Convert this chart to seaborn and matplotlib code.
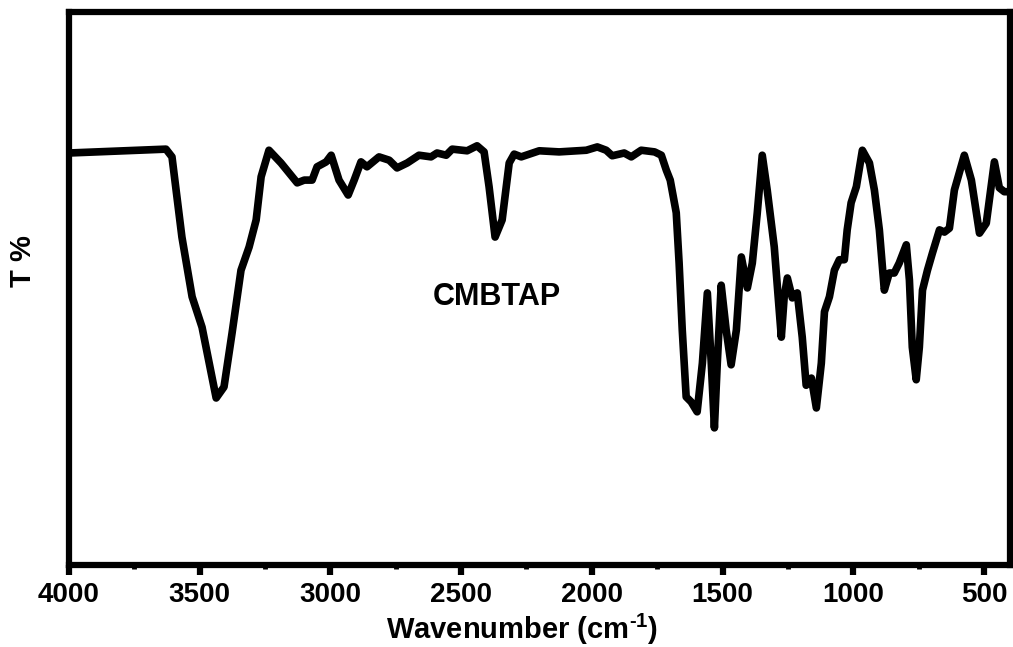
import matplotlib
matplotlib.use("Agg")
import matplotlib.pyplot as plt
import seaborn as sns
import pandas as pd
from matplotlib.ticker import MultipleLocator

# FTIR spectrum of CMBTAP
wavenumber = [4000, 3629, 3606, 3568, 3529, 3491, 3437, 3407, 3376, 3342, 3311, 3284, 3265, 3235,
              3189, 3158, 3127, 3100, 3070, 3051, 3016, 2997, 2967, 2932, 2909, 2883, 2860, 2814,
              2775, 2745, 2706, 2661, 2615, 2592, 2557, 2534, 2477, 2439, 2412, 2393, 2370, 2343,
              2316, 2297, 2270, 2201, 2125, 2021, 1979, 1945, 1922, 1876, 1849, 1811, 1760, 1734,
              1715, 1700, 1677, 1666, 1654, 1639, 1620, 1597, 1577, 1558, 1543, 1531, 1520, 1505,
              1486, 1467, 1447, 1428, 1405, 1386, 1367, 1348, 1329, 1302, 1275, 1264, 1252, 1233,
              1214, 1195, 1180, 1160, 1141, 1122, 1110, 1091, 1072, 1053, 1034, 1023, 1008, 988,
              965, 938, 919, 900, 881, 862, 843, 824, 797, 785, 774, 759, 747, 735, 716, 697, 670,
              651, 632, 613, 575, 548, 517, 491, 460, 441, 422, 400]
transmittance = [74.5, 75.2, 73.8, 59.3, 48.5, 43.0, 30.2, 32.2, 42.0, 53.3, 57.5, 62.4, 70.2, 75.0,
                 72.7, 70.9, 69.1, 69.6, 69.6, 72.0, 72.9, 74.1, 69.6, 66.9, 69.6, 72.9, 72.0, 73.8,
                 73.2, 71.8, 72.7, 74.1, 73.8, 74.5, 74.1, 75.2, 74.9, 75.8, 74.7, 68.4, 59.3, 62.4,
                 72.7, 74.3, 73.8, 74.9, 74.7, 75.0, 75.6, 75.0, 74.0, 74.5, 73.8, 75.0, 74.7, 74.1,
                 71.4, 69.6, 63.7, 54.6, 42.5, 30.4, 29.5, 27.7, 36.5, 49.2, 36.5, 24.8, 36.5, 50.6,
                 42.5, 36.2, 42.5, 55.7, 50.1, 54.6, 63.7, 74.1, 67.8, 57.5, 41.2, 48.5, 51.9, 48.3,
                 49.2, 41.2, 32.5, 33.8, 28.4, 36.5, 45.8, 48.5, 53.3, 55.2, 55.2, 60.6, 65.5, 68.4,
                 75.0, 72.7, 67.8, 60.6, 49.7, 52.8, 52.8, 54.6, 57.9, 51.5, 39.4, 33.5, 39.4, 49.7,
                 53.3, 56.4, 60.6, 60.2, 60.9, 67.8, 74.1, 69.6, 60.0, 61.8, 72.9, 68.2, 67.5, 67.5]
x_ticks = [4000, 3500, 3000, 2500, 2000, 1500, 1000, 500]
sample_label = "CMBTAP"

sns.set_style("white")
plt.rcParams['font.family'] = ['Liberation Sans', 'DejaVu Sans']
plt.rcParams['font.weight'] = 'bold'
plt.rcParams['text.color'] = 'black'
plt.rcParams['axes.labelcolor'] = 'black'
plt.rcParams['xtick.color'] = 'black'
plt.rcParams['ytick.color'] = 'black'
plt.rcParams['mathtext.fontset'] = 'custom'
plt.rcParams['mathtext.rm'] = 'Liberation Sans:bold'
plt.rcParams['mathtext.bf'] = 'Liberation Sans:bold'
plt.rcParams['mathtext.default'] = 'bf'

df = pd.DataFrame({"Wavenumber": wavenumber, "T": transmittance})

fig = plt.figure(figsize=(10.13, 6.47), dpi=100)
ax = fig.add_axes([0.0681, 0.1267, 0.9290, 0.8548])

sns.lineplot(data=df, x="Wavenumber", y="T", sort=False, color="black", linewidth=5.5,
             ax=ax, estimator=None)
for l in ax.lines:
    l.set_solid_joinstyle('round')
    l.set_solid_capstyle('round')

ax.set_xlim(4000, 400)
ax.set_ylim(0, 100)
ax.set_xticks(x_ticks)
ax.xaxis.set_minor_locator(MultipleLocator(250))
ax.set_yticks([])

for s in ax.spines.values():
    s.set_visible(True)
    s.set_linewidth(4.5)
    s.set_color("black")

ax.tick_params(axis='x', which='major', direction='out', length=7, width=4.5,
               labelsize=20, pad=5, bottom=True, top=False, colors='black')
ax.tick_params(axis='x', which='minor', direction='out', length=3, width=3.5,
               bottom=True, top=False, colors='black')
for t in ax.get_xticklabels():
    t.set_fontweight('bold')

ax.set_xlabel("Wavenumber (cm$^{\u20101}$)", fontsize=21, fontweight='bold', color='black')
ax.set_ylabel("T %", fontsize=21, fontweight='bold', color='black')
ax.xaxis.set_label_coords(0.481, -0.085)
ax.yaxis.set_label_coords(-0.034, 0.55)

ax.text(2365, 48.5, sample_label, fontsize=22, fontweight='bold', ha='center', va='center',
        color='black')

fig.savefig("out.png", dpi=100)
